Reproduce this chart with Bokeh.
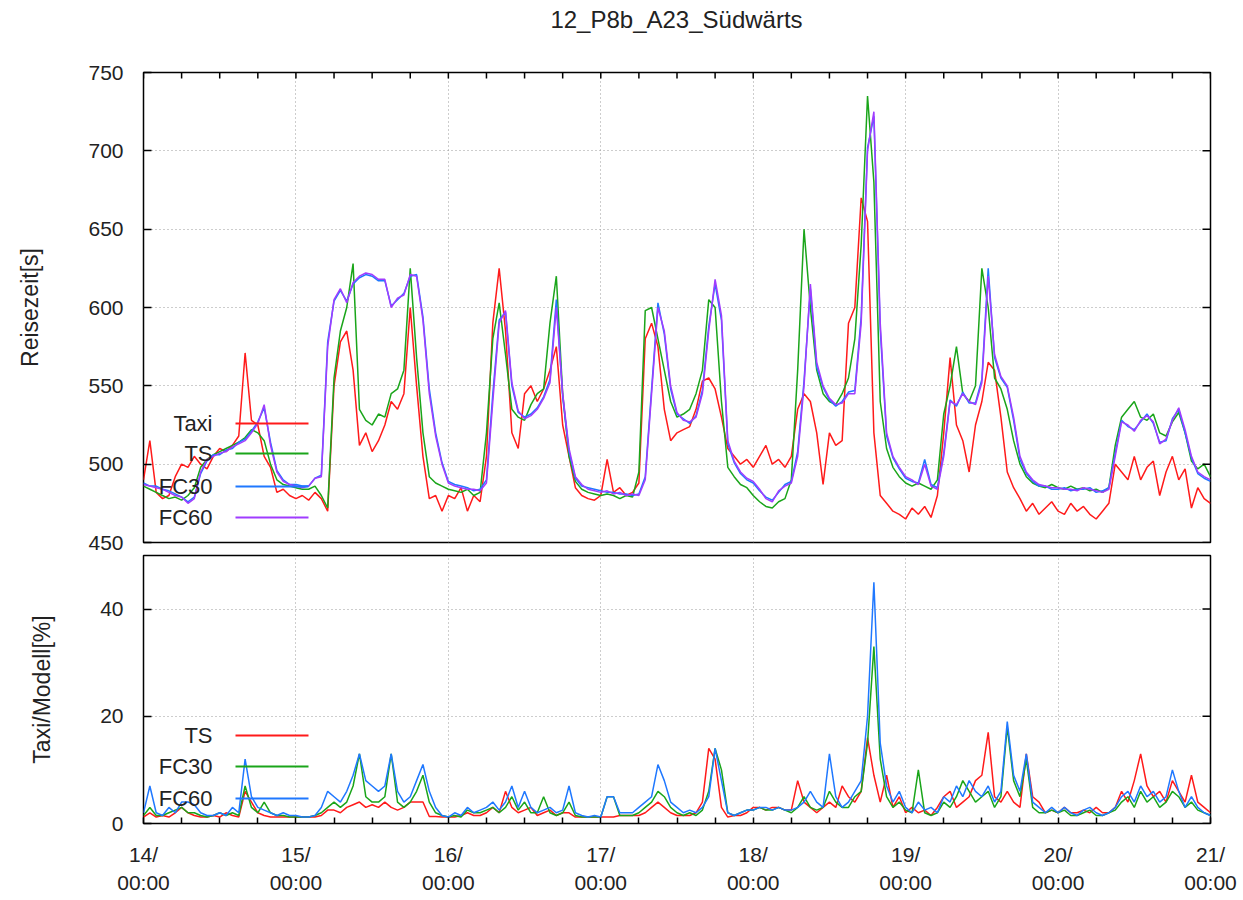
import math
from bokeh.plotting import figure
from bokeh.models import FixedTicker, Label, BoxAnnotation, Range1d, Div
from bokeh.layouts import column
from bokeh.embed import file_html
from bokeh.resources import INLINE

# ---------------- data (hourly, hours since 14/00:00) ----------------
hours = list(range(169))

day_ticks = [0, 24, 48, 72, 96, 120, 144, 168]
six_hour_ticks = [6, 12, 18, 30, 36, 42, 54, 60, 66, 78, 84, 90, 102, 108, 114,
                  126, 132, 138, 150, 156, 162]
day_labels = ["14/\n00:00", "15/\n00:00", "16/\n00:00", "17/\n00:00",
              "18/\n00:00", "19/\n00:00", "20/\n00:00", "21/\n00:00"]
top_yticks = [450, 500, 550, 600, 650, 700, 750]
bot_yticks = [0, 20, 40]
x_end = 168
top_ymax = 750
bot_ymax = 50

title_text = "12_P8b_A23_Südwärts"
top_series = ["Taxi", "TS", "FC30", "FC60"]
bot_series = ["TS", "FC30", "FC60"]

taxi = [490, 515, 482, 478, 480, 492, 500, 498, 505, 500, 497, 505, 510, 508, 512, 518, 571, 528, 525, 505, 498, 482, 484, 480,
        478, 480, 477, 482, 478, 470, 550, 578, 585, 560, 512, 520, 508, 515, 525, 540, 535, 545, 600, 550, 505, 478, 480, 470,
        480, 478, 485, 470, 480, 476, 505, 590, 625, 585, 520, 510, 545, 550, 540, 548, 560, 575, 525, 505, 485, 480, 478, 477,
        480, 503, 482, 485, 480, 482, 488, 580, 590, 575, 535, 515, 520, 522, 524, 535, 553, 555, 548, 530, 510, 505, 500, 503,
        498, 505, 512, 500, 503, 498, 505, 535, 545, 540, 520, 487, 520, 512, 515, 590, 600, 670, 655, 520, 480, 475, 470, 468,
        465, 472, 468, 473, 466, 480, 520, 568, 525, 515, 495, 525, 540, 565, 560, 530, 495, 485, 478, 470, 475, 468, 472, 476,
        470, 468, 475, 470, 473, 468, 465, 470, 475, 500, 495, 490, 505, 490, 498, 502, 480, 495, 505, 490, 497, 472, 485, 478,
        475]

ts = [486, 484, 482, 480, 478, 479, 477, 480, 485, 498, 503, 506, 508, 510, 512, 514, 517, 522, 520, 515, 500, 490, 487, 486,
      485, 484, 484, 486, 480, 472, 555, 585, 600, 628, 535, 528, 525, 532, 530, 545, 548, 560, 625, 568, 520, 492, 488, 486,
      484, 483, 482, 484, 480, 482, 520, 580, 603, 570, 535, 530, 528, 538, 545, 548, 590, 620, 545, 505, 489, 484, 482, 481,
      480, 481, 480, 478, 480, 479, 495, 598, 600, 580, 560, 540, 530, 532, 535, 545, 560, 605, 600, 540, 498, 492, 487, 485,
      480, 476, 473, 472, 476, 478, 490, 560, 650, 600, 560, 545, 540, 538, 545, 555, 580, 640, 735, 680, 540, 510, 498, 492,
      488, 486, 488, 486, 484, 490, 532, 550, 575, 545, 540, 550, 625, 600, 555, 548, 535, 515, 500, 492, 488, 486, 485, 487,
      485, 484, 486, 484, 485, 483, 484, 482, 485, 512, 530, 535, 540, 530, 528, 532, 520, 518, 527, 533, 520, 502, 497, 500,
      492]

fc30 = [488, 486, 486, 484, 483, 481, 479, 476, 479, 494, 502, 506, 506, 509, 510, 514, 516, 521, 527, 536, 514, 496, 490, 487,
        487, 486, 486, 491, 493, 578, 604, 611, 604, 615, 619, 621, 620, 617, 617, 601, 605, 609, 620, 621, 594, 548, 520, 501,
        489, 487, 486, 485, 483, 484, 490, 545, 592, 597, 550, 533, 530, 532, 536, 543, 554, 605, 543, 508, 491, 486, 485, 484,
        483, 482, 482, 481, 481, 480, 481, 492, 548, 603, 583, 548, 532, 529, 526, 531, 547, 588, 615, 592, 513, 501, 494, 490,
        488, 483, 479, 477, 482, 487, 489, 508, 553, 612, 562, 549, 541, 537, 540, 546, 547, 594, 702, 722, 586, 518, 504, 497,
        491, 489, 488, 503, 487, 485, 507, 541, 537, 546, 539, 539, 554, 625, 568, 555, 549, 528, 503, 494, 489, 486, 486, 484,
        484, 485, 483, 484, 484, 485, 482, 483, 485, 507, 528, 524, 522, 527, 532, 526, 514, 515, 529, 535, 520, 504, 494, 491,
        489]

fc60 = [487, 486, 485, 484, 482, 480, 479, 475, 478, 495, 503, 505, 507, 508, 511, 513, 515, 520, 526, 538, 512, 495, 489, 487,
        486, 485, 486, 491, 492, 575, 605, 612, 603, 616, 620, 622, 621, 618, 618, 600, 606, 608, 621, 620, 592, 545, 518, 500,
        488, 486, 485, 484, 484, 483, 488, 540, 590, 598, 552, 534, 529, 531, 535, 542, 552, 600, 545, 510, 492, 487, 484, 483,
        482, 483, 481, 482, 480, 481, 480, 490, 545, 600, 585, 550, 533, 528, 527, 530, 545, 585, 618, 595, 515, 502, 495, 491,
        489, 484, 478, 476, 483, 486, 488, 505, 550, 615, 565, 550, 542, 538, 539, 545, 545, 590, 700, 725, 590, 520, 505, 498,
        492, 490, 487, 500, 486, 484, 505, 540, 538, 545, 540, 538, 552, 620, 570, 556, 550, 530, 505, 495, 490, 487, 486, 485,
        485, 484, 484, 483, 485, 484, 483, 482, 484, 505, 527, 525, 521, 528, 531, 527, 513, 516, 528, 536, 522, 505, 495, 492,
        490]

ts_err = [1.2, 2, 1.2, 1.5, 1.2, 2, 3, 2, 1.5, 1.2, 1.2, 1.5, 1.2, 2, 1.5, 1.2, 6, 4, 2, 1.5, 1.2, 1.2, 1.2, 1.2,
          1.2, 1.2, 1.2, 1.2, 1.5, 2.5, 2.5, 2, 3, 3.5, 4, 3, 3.5, 3, 4, 3, 2.5, 3, 4, 4, 4, 1.3, 1.3, 1.2,
          1.2, 1.2, 1.5, 2, 1.5, 1.5, 2, 3, 2, 6, 3, 2, 2.5, 3, 1.5, 2, 2.5, 1.5, 2, 2, 1.2, 1.2, 1.2, 1.2,
          1.2, 1.2, 1.2, 1.5, 1.5, 1.5, 1.5, 2, 3, 4, 3, 2, 1.5, 1.5, 1.5, 2, 4, 14, 12, 3, 1.2, 1.5, 1.5, 2,
          3, 3, 2.5, 3, 3, 2.5, 2.5, 8, 4, 3, 2, 3, 4, 3, 7, 5, 4, 6, 16, 9, 4, 9, 3, 5,
          2, 3, 2, 2.5, 1.5, 3, 5, 6, 3, 4, 5, 8, 9, 17, 5, 4, 6, 4, 3, 13, 5, 4, 2, 2.5,
          2, 3, 2, 2, 2.5, 2, 3, 2, 2, 3, 6, 4, 8, 13, 7, 5, 6, 4, 8, 6, 4, 9, 4, 3,
          2]

fc30_err = [1.5, 3, 1.5, 1.5, 2, 2.5, 3, 2, 2, 1.5, 1.2, 1.5, 2, 1.5, 2, 1.5, 7, 3, 2, 4, 2, 1.5, 1.5, 1.2,
            1.2, 1.2, 1.2, 1.5, 2, 3, 4, 3, 4, 7, 13, 5, 4, 4, 5, 13, 4, 3, 4, 6, 9, 4, 2, 1.5,
            1.2, 1.5, 1.2, 2.5, 2, 2, 2.5, 3, 2, 3, 5, 2.5, 4, 2, 2, 5, 2, 1.5, 2, 4, 1.5, 1.2, 1.2, 1.2,
            1.2, 5, 5, 1.5, 1.5, 1.5, 2, 3, 4, 6, 5, 3, 2, 1.5, 2, 1.5, 2.5, 6, 14, 10, 2, 1.5, 2, 2.5,
            2.5, 3, 2.5, 2.5, 3, 2.5, 2, 3, 5, 3, 2.5, 3, 6, 4, 3, 3, 5, 6, 15, 33, 12, 5, 3, 4,
            2.5, 2, 10, 2, 1.5, 2, 4, 3, 5, 8, 6, 4, 5, 6, 3, 5, 18, 8, 5, 12, 3, 2, 2, 2.5,
            2, 2.5, 1.5, 1.5, 2, 2.5, 1.5, 1.5, 2, 2.5, 4, 5, 3, 6, 4, 5, 3, 4, 6, 5, 3, 4, 2.5, 2,
            1.5]

fc60_err = [2, 7, 2, 1.5, 3, 2, 4, 4, 3.5, 2, 1.5, 1.5, 2, 1.5, 3, 2, 12, 5, 3, 2.5, 2, 1.5, 2, 1.5,
            1.5, 1.2, 1.2, 1.5, 3, 6, 5, 4, 6, 9, 13, 8, 7, 6, 7, 13, 6, 4, 5, 8, 11, 6, 3, 1.5,
            1.2, 2, 1.5, 3, 2, 2.5, 3, 4, 2.5, 4, 7, 3, 6, 3, 2, 2.5, 3, 2, 2.5, 7, 2, 1.5, 1.2, 1.5,
            1.2, 5, 5, 2, 2, 2, 3, 4, 5, 11, 8, 4, 3, 2, 2.5, 2, 3, 5, 14, 8, 2, 1.5, 2, 2.5,
            2.5, 3, 3, 2.5, 3, 2.5, 2.5, 3, 4, 6, 4, 3, 13, 5, 3, 4, 6, 8, 20, 45, 15, 7, 4, 6,
            3, 2, 4, 2.5, 3, 2, 5, 4, 7, 5, 8, 6, 5, 7, 4, 6, 19, 9, 6, 13, 4, 3, 2, 3,
            2, 3, 2, 1.5, 2.5, 3, 2, 1.5, 2, 3, 5, 6, 4, 7, 5, 6, 4, 5, 10, 6, 3, 5, 3, 2,
            1.5]

# ---------------- styling ----------------
FONT = "Liberation Sans"
RED, GREEN, BLUE, PURPLE = "#ff1a1a", "#1aa51a", "#1f78ff", "#a03cff"
GRID = "#9a9a9a"
TXT = "#222222"
W = 1238


def style_common(p):
    p.outline_line_color = "black"
    p.outline_line_width = 1.5
    p.background_fill_color = "white"
    p.border_fill_color = "white"
    for g in (p.xgrid, p.ygrid):
        g.grid_line_color = GRID
        g.grid_line_dash = "1 3"
        g.grid_line_width = 1


def style_yaxis(ax, ticker, label):
    ax.ticker = ticker
    ax.axis_label = label
    ax.axis_label_text_font = FONT
    ax.axis_label_text_font_size = "23px"
    ax.axis_label_text_font_style = "normal"
    ax.axis_label_text_color = TXT
    ax.axis_label_standoff = 42
    ax.major_label_text_font = FONT
    ax.major_label_text_font_size = "21px"
    ax.major_label_text_color = TXT
    ax.major_label_standoff = 20
    ax.major_tick_in = 8
    ax.major_tick_out = 0
    ax.major_tick_line_color = "black"
    ax.major_tick_line_width = 1.5
    ax.minor_tick_line_color = None
    ax.axis_line_color = None


def inner_ticks(p, xs, ys, angle, length):
    # inward tick marks on the right / top border of the frame
    p.ray(x=xs, y=ys, length=length, length_units="screen", angle=angle,
          line_color="black", line_width=1.5)


def legend(p, names, colors, ys):
    for name, col, yy in zip(names, colors, ys):
        p.add_layout(Label(x=69, y=yy, x_units="screen", y_units="screen", text=name,
                           text_align="right", text_baseline="middle",
                           text_font=FONT, text_font_size="22px", text_color=TXT))
        p.add_layout(BoxAnnotation(left=92, right=165, bottom=yy - 1, top=yy + 1,
                                   left_units="screen", right_units="screen",
                                   bottom_units="screen", top_units="screen",
                                   fill_color=col, fill_alpha=1.0, line_color=None))


# ---------------- title ----------------
title = Div(text=title_text, width=1067, height=40, margin=(0, 0, 0, 143),
            styles={"font-family": FONT, "font-size": "24px", "color": TXT,
                    "text-align": "center", "line-height": "40px", "white-space": "nowrap"})

# ---------------- top panel ----------------
p1 = figure(width=W, height=514, x_range=Range1d(0, x_end), y_range=Range1d(450, top_ymax),
            x_axis_location="above", output_backend="svg", toolbar_location=None,
            min_border_left=143, min_border_right=28, min_border_top=32, min_border_bottom=12)
style_common(p1)

xt1 = FixedTicker(ticks=day_ticks, minor_ticks=six_hour_ticks)
p1.xaxis.ticker = xt1
p1.xgrid.ticker = xt1
p1.xaxis.visible = False

yt1 = FixedTicker(ticks=top_yticks, minor_ticks=[])
style_yaxis(p1.yaxis[0], yt1, "Reisezeit[s]")
p1.ygrid.ticker = yt1

for series, col in zip([taxi, ts, fc30, fc60], [RED, GREEN, BLUE, PURPLE]):
    p1.line(hours, series, line_color=col, line_width=1.5)

top_x_ticks = day_ticks + six_hour_ticks
inner_ticks(p1, top_x_ticks, [top_ymax] * len(top_x_ticks), -math.pi / 2, 6)
inner_ticks(p1, [x_end] * len(top_yticks), top_yticks, math.pi, 8)

legend(p1, top_series, [RED, GREEN, BLUE, PURPLE], [119, 89, 56, 25])

# ---------------- bottom panel ----------------
p2 = figure(width=W, height=343, x_range=p1.x_range, y_range=Range1d(0, bot_ymax),
            output_backend="svg", toolbar_location=None,
            min_border_left=143, min_border_right=28, min_border_top=1, min_border_bottom=72)
style_common(p2)
xt2 = FixedTicker(ticks=day_ticks, minor_ticks=six_hour_ticks)
ax = p2.xaxis[0]
ax.ticker = xt2
p2.xgrid.ticker = xt2
ax.major_label_overrides = {t: lab for t, lab in zip(day_ticks, day_labels)}
ax.major_label_text_font = FONT
ax.major_label_text_font_size = "21px"
ax.major_label_text_color = TXT
ax.major_label_text_line_height = 1.25
ax.major_label_standoff = 19
ax.major_tick_in = 6
ax.major_tick_out = 0
ax.minor_tick_in = 6
ax.minor_tick_out = 0
ax.major_tick_line_width = 1.5
ax.minor_tick_line_width = 1.5
ax.minor_tick_line_color = "black"
ax.axis_line_color = None

yt2 = FixedTicker(ticks=bot_yticks, minor_ticks=[])
style_yaxis(p2.yaxis[0], yt2, "Taxi/Modell[%]")
p2.ygrid.ticker = yt2

for series, col in zip([ts_err, fc30_err, fc60_err], [RED, GREEN, BLUE]):
    p2.line(hours, series, line_color=col, line_width=1.5)

inner_ticks(p2, [x_end] * len(bot_yticks), bot_yticks, math.pi, 8)

legend(p2, bot_series, [RED, GREEN, BLUE], [88, 57, 25])

layout = column(title, p1, p2, spacing=0)
open("out.html", "w").write(file_html(layout, INLINE))
